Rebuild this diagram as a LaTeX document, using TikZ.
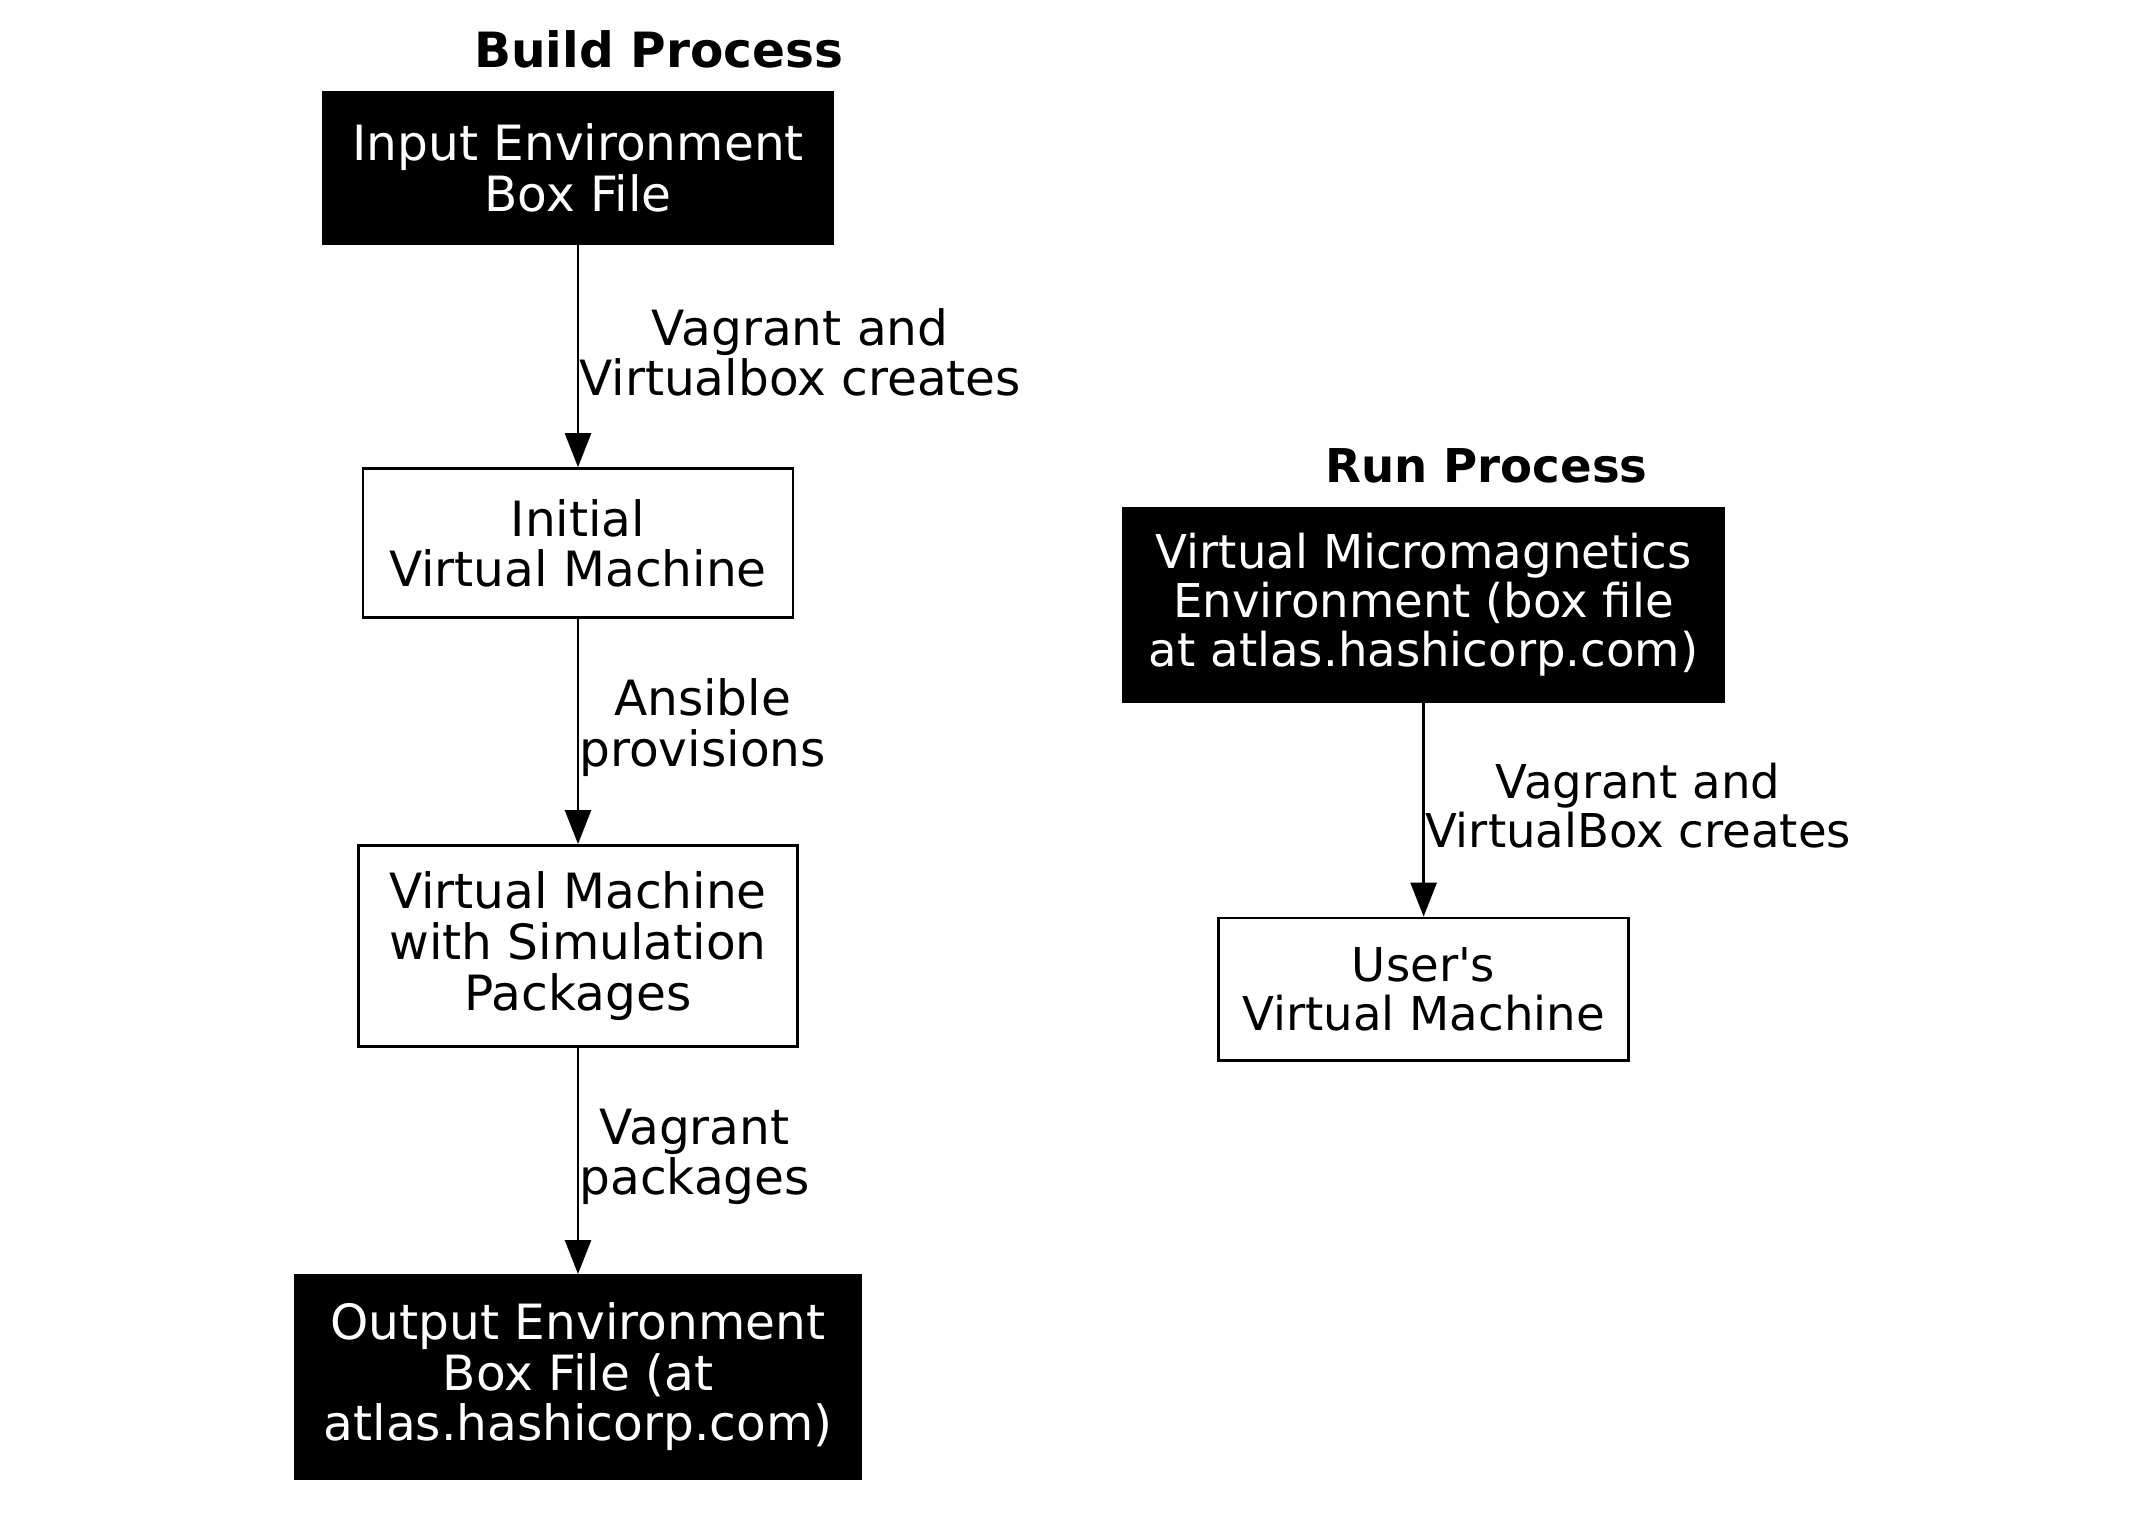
\documentclass[tikz,border=0pt]{standalone}
\usepackage{fontspec}
\setmainfont{DejaVu Sans}
\usetikzlibrary{arrows.meta}
\newcommand{\buildfont}{\fontsize{12.15}{12.65}\selectfont}
\newcommand{\runfont}{\fontsize{11.65}{12.33}\selectfont}

\begin{document}
\begin{tikzpicture}[x=1pt,y=1pt,
	box/.style={draw,line width=0.7pt,align=center,inner xsep=3pt,font=\buildfont},
	envbox/.style={box,fill=black,text=white},
	lbl/.style={align=center,anchor=west,inner xsep=0pt,yshift=1pt,font=\buildfont},
	phase/.style={font=\buildfont\bfseries},
	flow/.style={-{Triangle[length=8.5pt,width=6.5pt]},line width=0.7pt}]
	\useasboundingbox (0,0) rectangle (537,-379);
	% build process
	\node[phase] (buildttl) at (164.7,-12.3) {Build Process};
	\node[envbox,minimum width=127.4pt,minimum height=38pt] (inbox) at (144.5,-42.0) {Input Environment\\Box File};
	\node[box,minimum width=107.5pt,minimum height=37.3pt] (initvm) at (144.5,-135.8) {Initial\\Virtual Machine};
	\node[box,minimum width=109.6pt,minimum height=50.3pt] (simvm) at (144.5,-236.5) {Virtual Machine\\with Simulation\\Packages};
	\node[envbox,minimum width=141.1pt,minimum height=50.7pt] (outbox) at (144.5,-344.2) {Output Environment\\Box File (at\\atlas.hashicorp.com)};
	\draw [flow] (inbox) -- node[lbl] {Vagrant and\\Virtualbox creates} (initvm);
	\draw [flow] (initvm) -- node[lbl] {Ansible\\provisions} (simvm);
	\draw [flow] (simvm) -- node[lbl] {Vagrant\\packages} (outbox);
	% run process
	\node[phase,font=\runfont\bfseries] (runttl) at (371.6,-116.4) {Run Process};
	\node[envbox,font=\runfont,minimum width=150pt,minimum height=48.3pt] (vmmbox) at (355.9,-151.2) {Virtual Micromagnetics\\Environment (box file\\at atlas.hashicorp.com)};
	\node[box,font=\runfont,minimum width=102.4pt,minimum height=35.6pt] (uservm) at (355.9,-247.3) {User\textquotesingle s\\Virtual Machine};
	\draw [flow] (vmmbox) -- node[lbl,font=\runfont] {Vagrant and\\VirtualBox creates} (uservm);
\end{tikzpicture}
\end{document}
